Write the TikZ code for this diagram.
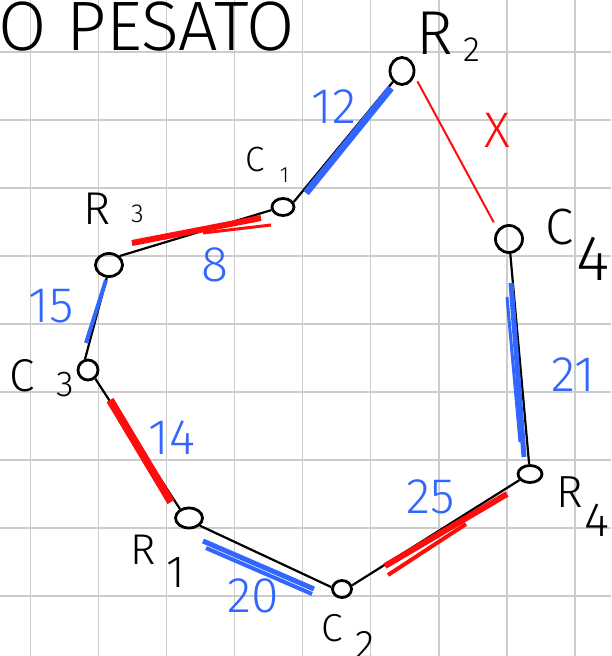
\documentclass[tikz,border=0pt]{standalone}
\usepackage{fontspec}
\setmainfont{Fira Sans}[UprightFont={* Light}]
\usepackage{tikz}
\usetikzlibrary{shapes.geometric}
\definecolor{penblue}{HTML}{3366FF}
\definecolor{penred}{HTML}{FF0D0D}
\newcommand{\fs}[1]{\fontsize{#1}{#1}\selectfont}

\begin{document}
\begin{tikzpicture}[x=1pt, y=-1pt,
    vtx/.style={ellipse, draw, line width=2.8pt, inner sep=0pt},
    lbl/.style={inner sep=0pt},
    wgt/.style={inner sep=0pt, text=penblue, font=\fs{50}},
    link/.style={line width=2.2pt},
    hlblue/.style={draw=penblue, line width=#1},
    hlblue/.default=5pt,
    hlred/.style={draw=penred, line width=#1},
    hlred/.default=5pt,
    gridline/.style={draw=black!20, line width=1.6pt}
]
\useasboundingbox (0,0) rectangle (611,656);

% squared paper
\foreach \i in {0,...,8} {
    \draw[gridline] (30.4+68.05*\i,0) -- ++(0,656);
    \draw[gridline] (0,52+68*\i) -- ++(611,0);
}

\node[lbl, anchor=base west, font=\fs{70}] (title) at (-2,50) {O PESATO};

% vertices
\node[vtx, minimum width=24pt, minimum height=27pt] (R2) at (402,71) {};
\node[vtx, minimum width=22pt, minimum height=17pt] (C1) at (283,207) {};
\node[vtx, minimum width=27pt, minimum height=23pt] (R3) at (109,265) {};
\node[vtx, minimum width=27pt, minimum height=27pt] (C4) at (509,239) {};
\node[vtx, minimum width=20pt, minimum height=20pt] (C3) at (88,370) {};
\node[vtx, minimum width=27pt, minimum height=20pt] (R1) at (189,518) {};
\node[vtx, minimum width=19pt, minimum height=17pt] (C2) at (342,589) {};
\node[vtx, minimum width=24pt, minimum height=17pt] (R4) at (530,474) {};

% vertex names
\node[lbl, font=\fs{62}] (nR2) at (435,33.5) {R};
\node[lbl, font=\fs{35}] (iR2) at (471.5,50) {2};
\node[lbl, font=\fs{35}] (nC1) at (255,160) {C};
\node[lbl, font=\fs{22}] (iC1) at (284.5,175.5) {1};
\node[lbl, font=\fs{46}] (nR3) at (97.5,209) {R};
\node[lbl, font=\fs{26}] (iR3) at (137.5,214) {3};
\node[lbl, font=\fs{51}] (nC4) at (560,227.5) {C};
\node[lbl, font=\fs{64}] (iC4) at (593.5,259) {4};
\node[lbl, font=\fs{46}] (nC3) at (22.5,376) {C};
\node[lbl, font=\fs{36}] (iC3) at (65,384.5) {3};
\node[lbl, font=\fs{43}] (nR1) at (143.5,550) {R};
\node[lbl, font=\fs{45}] (iR1) at (176,572.5) {1};
\node[lbl, font=\fs{39}] (nC2) at (332,628.5) {C};
\node[lbl, font=\fs{40}] (iC2) at (365,645) {2};
\node[lbl, font=\fs{45}] (nR4) at (569.5,492.5) {R};
\node[lbl, font=\fs{48}] (iR4) at (597,520) {4};

% edges
\draw[link] (C1.25) -- (R2.230);
\draw[link] (R3.40) -- (C1.195);
\draw[link] (R3.-100) -- (C3.105);
\draw[link] (C3.-50) -- (R1.135);
\draw[link] (R1.-35) -- (C2.170);
\draw[link] (C2.20) -- (R4.210);
\draw[link] (C4.-85) -- (R4.95);
\draw[hlred=2pt, shorten <=6pt, shorten >=8pt] (R2.-22) -- (C4.140);

% marker strokes
\draw[hlblue=7pt] (306,193) -- (391,88);
\draw[hlred=6pt] (132,243) -- (261,218);
\draw[hlred=3pt] (203,233) -- (271,225);
\draw[hlblue=4pt] (106,280) -- (86,343);
\draw[hlred=8pt] (110,400) -- (171,502);
\draw[hlblue=5pt] (203,541) -- (314,589);
\draw[hlblue=4pt] (206,548) -- (312,594);
\draw[hlred=6pt] (385,566) -- (507,494);
\draw[hlred=4pt] (388,575) -- (466,524);
\draw[hlblue=5pt] (511,283) -- (524,457);
\draw[hlblue=3pt] (507,297) -- (520,442);

% weights
\node[wgt] (w12) at (334,107) {12};
\node[wgt] (w8) at (215,265) {8};
\node[wgt] (w15) at (51,306) {15};
\node[wgt] (w21) at (573,375) {21};
\node[wgt] (w14) at (172,438) {14};
\node[wgt] (w20) at (253,596) {20};
\node[wgt] (w25) at (431,497) {25};
\node[wgt, text=penred] (wX) at (497,130) {X};
\end{tikzpicture}
\end{document}
